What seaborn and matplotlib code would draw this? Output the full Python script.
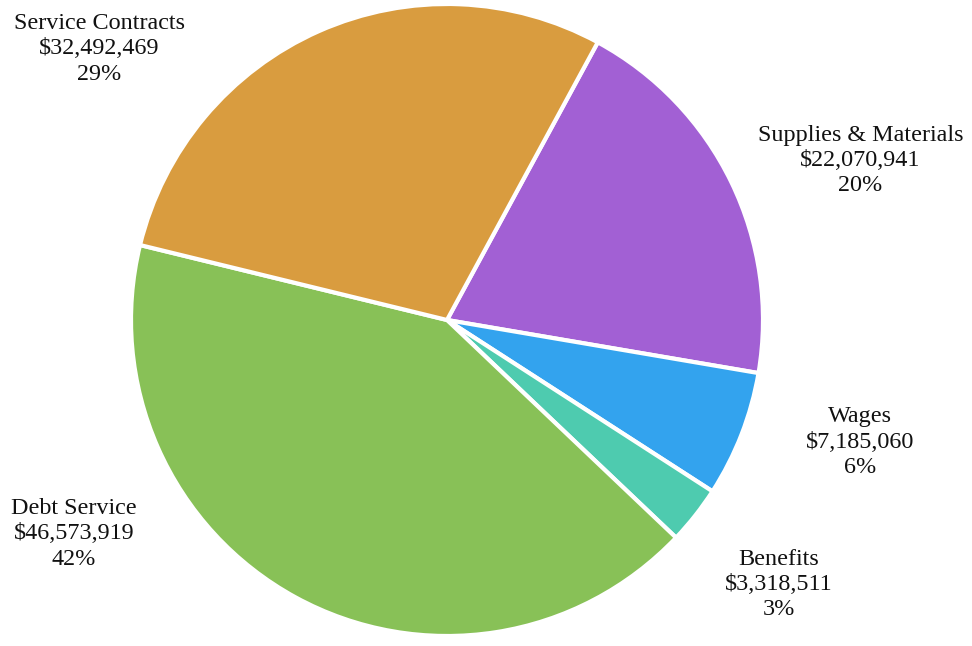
import matplotlib
matplotlib.use("Agg")
import matplotlib.pyplot as plt
import seaborn as sns

sns.set_theme(style="white")
plt.rcParams["font.family"] = ["Liberation Serif", "DejaVu Serif"]

categories = ["Supplies & Materials", "Wages", "Benefits", "Debt Service", "Service Contracts"]
amounts = [22070941, 7185060, 3318511, 46573919, 32492469]
colors = ["#A260D4", "#33A3EE", "#4ECBAF", "#88C157", "#D99C3F"]

# label block centres in data units (pie radius = 1)
label_pos = [(1.308, 0.505), (1.307, -0.387), (1.050, -0.837), (-1.180, -0.677), (-1.100, 0.858)]

W, H, DPI = 972, 646, 100
fig = plt.figure(figsize=(W / DPI, H / DPI), dpi=DPI)
ax = fig.add_axes([0, 0, 1, 1])

total = sum(amounts)
ax.pie(amounts, colors=colors, startangle=61.5, counterclock=False,
       wedgeprops=dict(edgecolor="white", linewidth=3))

for name, val, (x, y) in zip(categories, amounts, label_pos):
    pct = round(val / total * 100)
    ax.text(x, y, f"{name}\n${val:,.0f}\n{pct}%", ha="center", va="center",
            fontsize=17.4, color="#111111", linespacing=1.27)

R = 316
cx, cy = 447, 320
ax.set_xlim(-cx / R, (W - cx) / R)
ax.set_ylim((cy - H) / R, cy / R)
ax.set_aspect("equal")
ax.axis("off")

fig.savefig("out.png", dpi=DPI, facecolor="white")
